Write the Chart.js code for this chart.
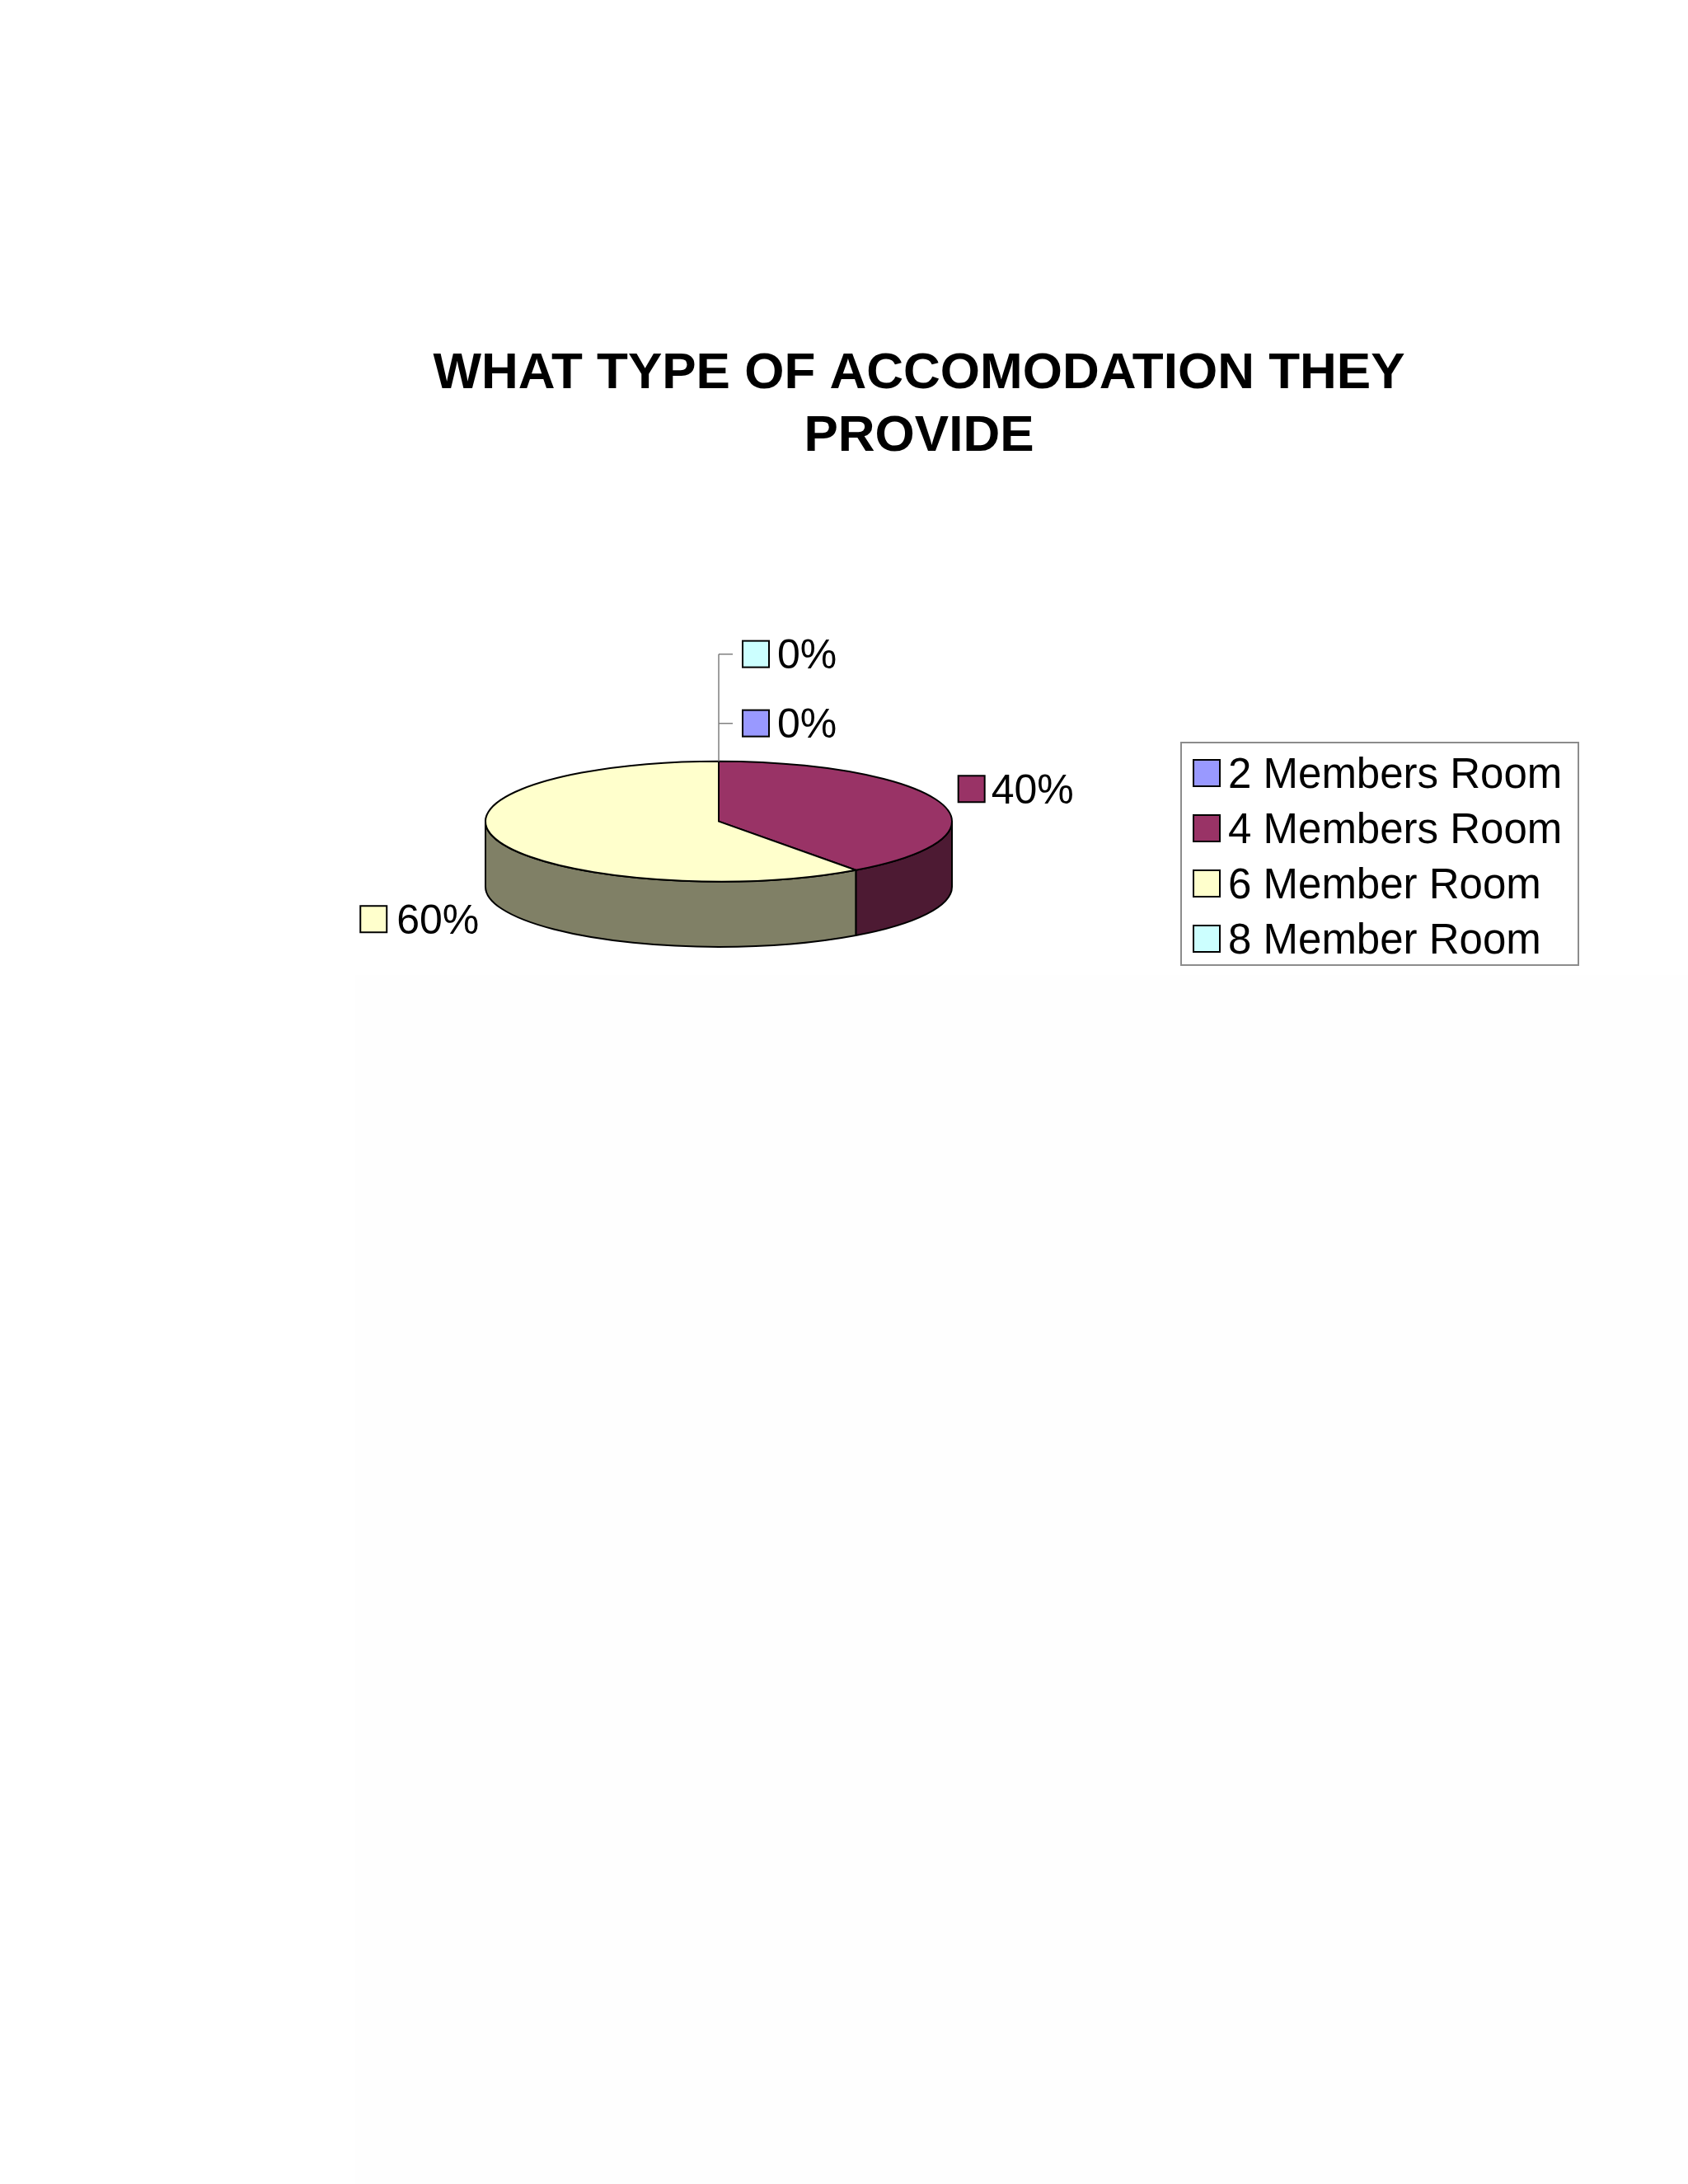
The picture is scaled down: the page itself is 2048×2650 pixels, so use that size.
<!DOCTYPE html>
<html>
<head>
<meta charset="utf-8">
<script src="https://cdn.jsdelivr.net/npm/chart.js@4.4.0/dist/chart.umd.min.js"></script>
<style>
  html, body { margin: 0; padding: 0; background: #ffffff; }
  body { width: 2048px; height: 2650px; position: relative; overflow: hidden; }
  #shade { position: absolute; left: 431px; top: 1183px; width: 1617px; height: 1467px; background: #fefefe; }
  #wrap { position: absolute; left: 0; top: 0; width: 2048px; height: 1470px; }
</style>
</head>
<body>
<div id="shade"></div>
<div id="wrap"><canvas id="myChart" width="2048" height="1470"></canvas></div>
<script>
const titleLines = ['WHAT TYPE OF ACCOMODATION THEY', 'PROVIDE'];
const rooms = ['2 Members Room', '4 Members Room', '6 Member Room', '8 Member Room'];
const shares = [0, 40, 60, 0];
const roomColors = ['#9999FF', '#993366', '#FFFFCC', '#CCFFFF'];

const FONT = '"Liberation Sans", Arial, Helvetica, sans-serif';
const TILT = 0.258;   // ellipse height / width
const DEPTH = 0.28;   // side wall height / radius

// darker colour for the cylinder walls
function shade(hex) {
  const n = parseInt(hex.slice(1), 16);
  const r = Math.round(((n >> 16) & 255) * 0.5);
  const g = Math.round(((n >> 8) & 255) * 0.5);
  const b = Math.round((n & 255) * 0.5);
  return 'rgb(' + r + ',' + g + ',' + b + ')';
}

function pieGeometry(chart) {
  const arcs = chart.getDatasetMeta(0).data;
  const rx = arcs[0].outerRadius;
  const ry = rx * TILT;
  const depth = rx * DEPTH;
  return { arcs, cx: arcs[0].x, cy: arcs[0].y - depth / 2, rx, ry, depth };
}

function labelSquare(ctx, x, yc, color) {
  ctx.fillStyle = color;
  ctx.fillRect(x, yc - 16, 32, 32);
  ctx.strokeStyle = '#000';
  ctx.lineWidth = 2;
  ctx.strokeRect(x, yc - 16, 32, 32);
}

// 3D look for the pie, using the arcs the library laid out
const pie3d = {
  id: 'pie3d',
  beforeDatasetsDraw(chart) {
    const ctx = chart.ctx;
    const { arcs, cx, cy, rx, ry, depth } = pieGeometry(chart);
    const colors = chart.data.datasets[0].backgroundColor;
    ctx.save();
    ctx.lineWidth = 2;
    ctx.strokeStyle = '#000';
    ctx.lineJoin = 'round';
    // walls (front half only)
    arcs.forEach((arc, i) => {
      const a1 = Math.max(arc.startAngle, 0);
      const a2 = Math.min(arc.endAngle, Math.PI);
      if (a2 <= a1) return;
      ctx.beginPath();
      ctx.ellipse(cx, cy, rx, ry, 0, a1, a2, false);
      ctx.lineTo(cx + rx * Math.cos(a2), cy + ry * Math.sin(a2) + depth);
      ctx.ellipse(cx, cy + depth, rx, ry, 0, a2, a1, true);
      ctx.closePath();
      ctx.fillStyle = shade(colors[i]);
      ctx.fill();
      ctx.stroke();
    });
    // top faces
    arcs.forEach((arc, i) => {
      if (arc.endAngle - arc.startAngle <= 0) return;
      ctx.beginPath();
      ctx.moveTo(cx, cy);
      ctx.ellipse(cx, cy, rx, ry, 0, arc.startAngle, arc.endAngle, false);
      ctx.closePath();
      ctx.fillStyle = colors[i];
      ctx.fill();
      ctx.stroke();
    });
    ctx.restore();
    return false;
  },
  // data labels (afterDatasetsDraw is skipped once beforeDatasetsDraw returns false)
  afterDraw(chart) {
    const ctx = chart.ctx;
    const { arcs, cx, cy, rx, ry, depth } = pieGeometry(chart);
    const data = chart.data.datasets[0].data;
    const colors = chart.data.datasets[0].backgroundColor;
    const total = data.reduce((a, b) => a + b, 0);
    ctx.save();
    ctx.font = '50px ' + FONT;
    ctx.textBaseline = 'middle';
    let level = 0;
    let topMost = null;
    const ticks = [];
    arcs.forEach((arc, i) => {
      const text = Math.round(data[i] / total * 100) + '%';
      if (data[i] === 0) {
        // empty slices: stacked above the pie with a leader line
        const yc = cy - ry - 46 - 84 * level;
        level++;
        topMost = yc;
        ticks.push(yc);
        labelSquare(ctx, cx + 29, yc, colors[i]);
        ctx.fillStyle = '#000';
        ctx.textAlign = 'left';
        ctx.fillText(text, cx + 71, yc + 4);
        return;
      }
      const mid = (arc.startAngle + arc.endAngle) / 2;
      const s = Math.sin(mid), c = Math.cos(mid);
      const ax = cx + rx * 1.08 * c;
      const ay = cy + ry * 1.08 * s + (s > 0 ? depth : 0) + (s > 0 ? 15 : -15);
      if (c >= 0) {
        labelSquare(ctx, ax, ay, colors[i]);
        ctx.fillStyle = '#000';
        ctx.textAlign = 'left';
        ctx.fillText(text, ax + 40, ay + 4);
      } else {
        const w = ctx.measureText(text).width;
        labelSquare(ctx, ax - w - 44, ay, colors[i]);
        ctx.fillStyle = '#000';
        ctx.textAlign = 'right';
        ctx.fillText(text, ax, ay + 4);
      }
    });
    if (topMost !== null) {
      ctx.strokeStyle = '#808080';
      ctx.lineWidth = 1.5;
      ctx.beginPath();
      ctx.moveTo(cx, cy - ry);
      ctx.lineTo(cx, topMost);
      ticks.forEach(y => { ctx.moveTo(cx, y); ctx.lineTo(cx + 17, y); });
      ctx.stroke();
    }
    ctx.restore();
  }
};

// legend with a frame, reserved on the right through the layout system
const framedLegend = {
  id: 'framedLegend',
  beforeInit(chart) {
    const box = {
      position: 'right', weight: 1000, fullSize: false, options: {},
      left: 0, top: 0, right: 0, bottom: 0, width: 0, height: 0,
      isHorizontal() { return false; },
      update(maxWidth, maxHeight) { this.width = 486; this.height = maxHeight; },
      draw() {
        const ctx = chart.ctx;
        const colors = chart.data.datasets[0].backgroundColor;
        const frameW = 482, frameH = 270;
        const x0 = this.right - frameW;
        const y0 = Math.round((this.top + this.bottom) / 2 - frameH / 2);
        ctx.save();
        ctx.fillStyle = '#ffffff';
        ctx.fillRect(x0, y0, frameW, frameH);
        ctx.strokeStyle = '#8c8c8c';
        ctx.lineWidth = 2;
        ctx.strokeRect(x0, y0, frameW, frameH);
        ctx.font = '51px ' + FONT;
        ctx.textBaseline = 'middle';
        ctx.textAlign = 'left';
        chart.data.labels.forEach((lab, i) => {
          const yc = y0 + 37 + i * 67;
          labelSquare(ctx, x0 + 15, yc, colors[i]);
          ctx.fillStyle = '#000';
          ctx.fillText(lab, x0 + 57, yc + 4);
        });
        ctx.restore();
      }
    };
    Chart.layouts.addBox(chart, box);
  }
};

const ctx = document.getElementById('myChart').getContext('2d');
const myChart = new Chart(ctx, {
  type: 'pie',
  data: {
    labels: rooms,
    datasets: [{
      data: shares,
      backgroundColor: roomColors,
      borderWidth: 0,
      radius: 283
    }]
  },
  options: {
    responsive: false,
    animation: false,
    events: [],
    layout: { padding: { left: 315, right: 133, top: 416, bottom: 0 } },
    plugins: {
      legend: { display: false },
      tooltip: { enabled: false },
      title: {
        display: true,
        text: titleLines,
        color: '#000',
        font: { family: FONT, size: 62, weight: 'bold', lineHeight: 1.23 },
        padding: { top: 0, bottom: 34 }
      }
    }
  },
  plugins: [framedLegend, pie3d]
});
</script>
</body>
</html>
